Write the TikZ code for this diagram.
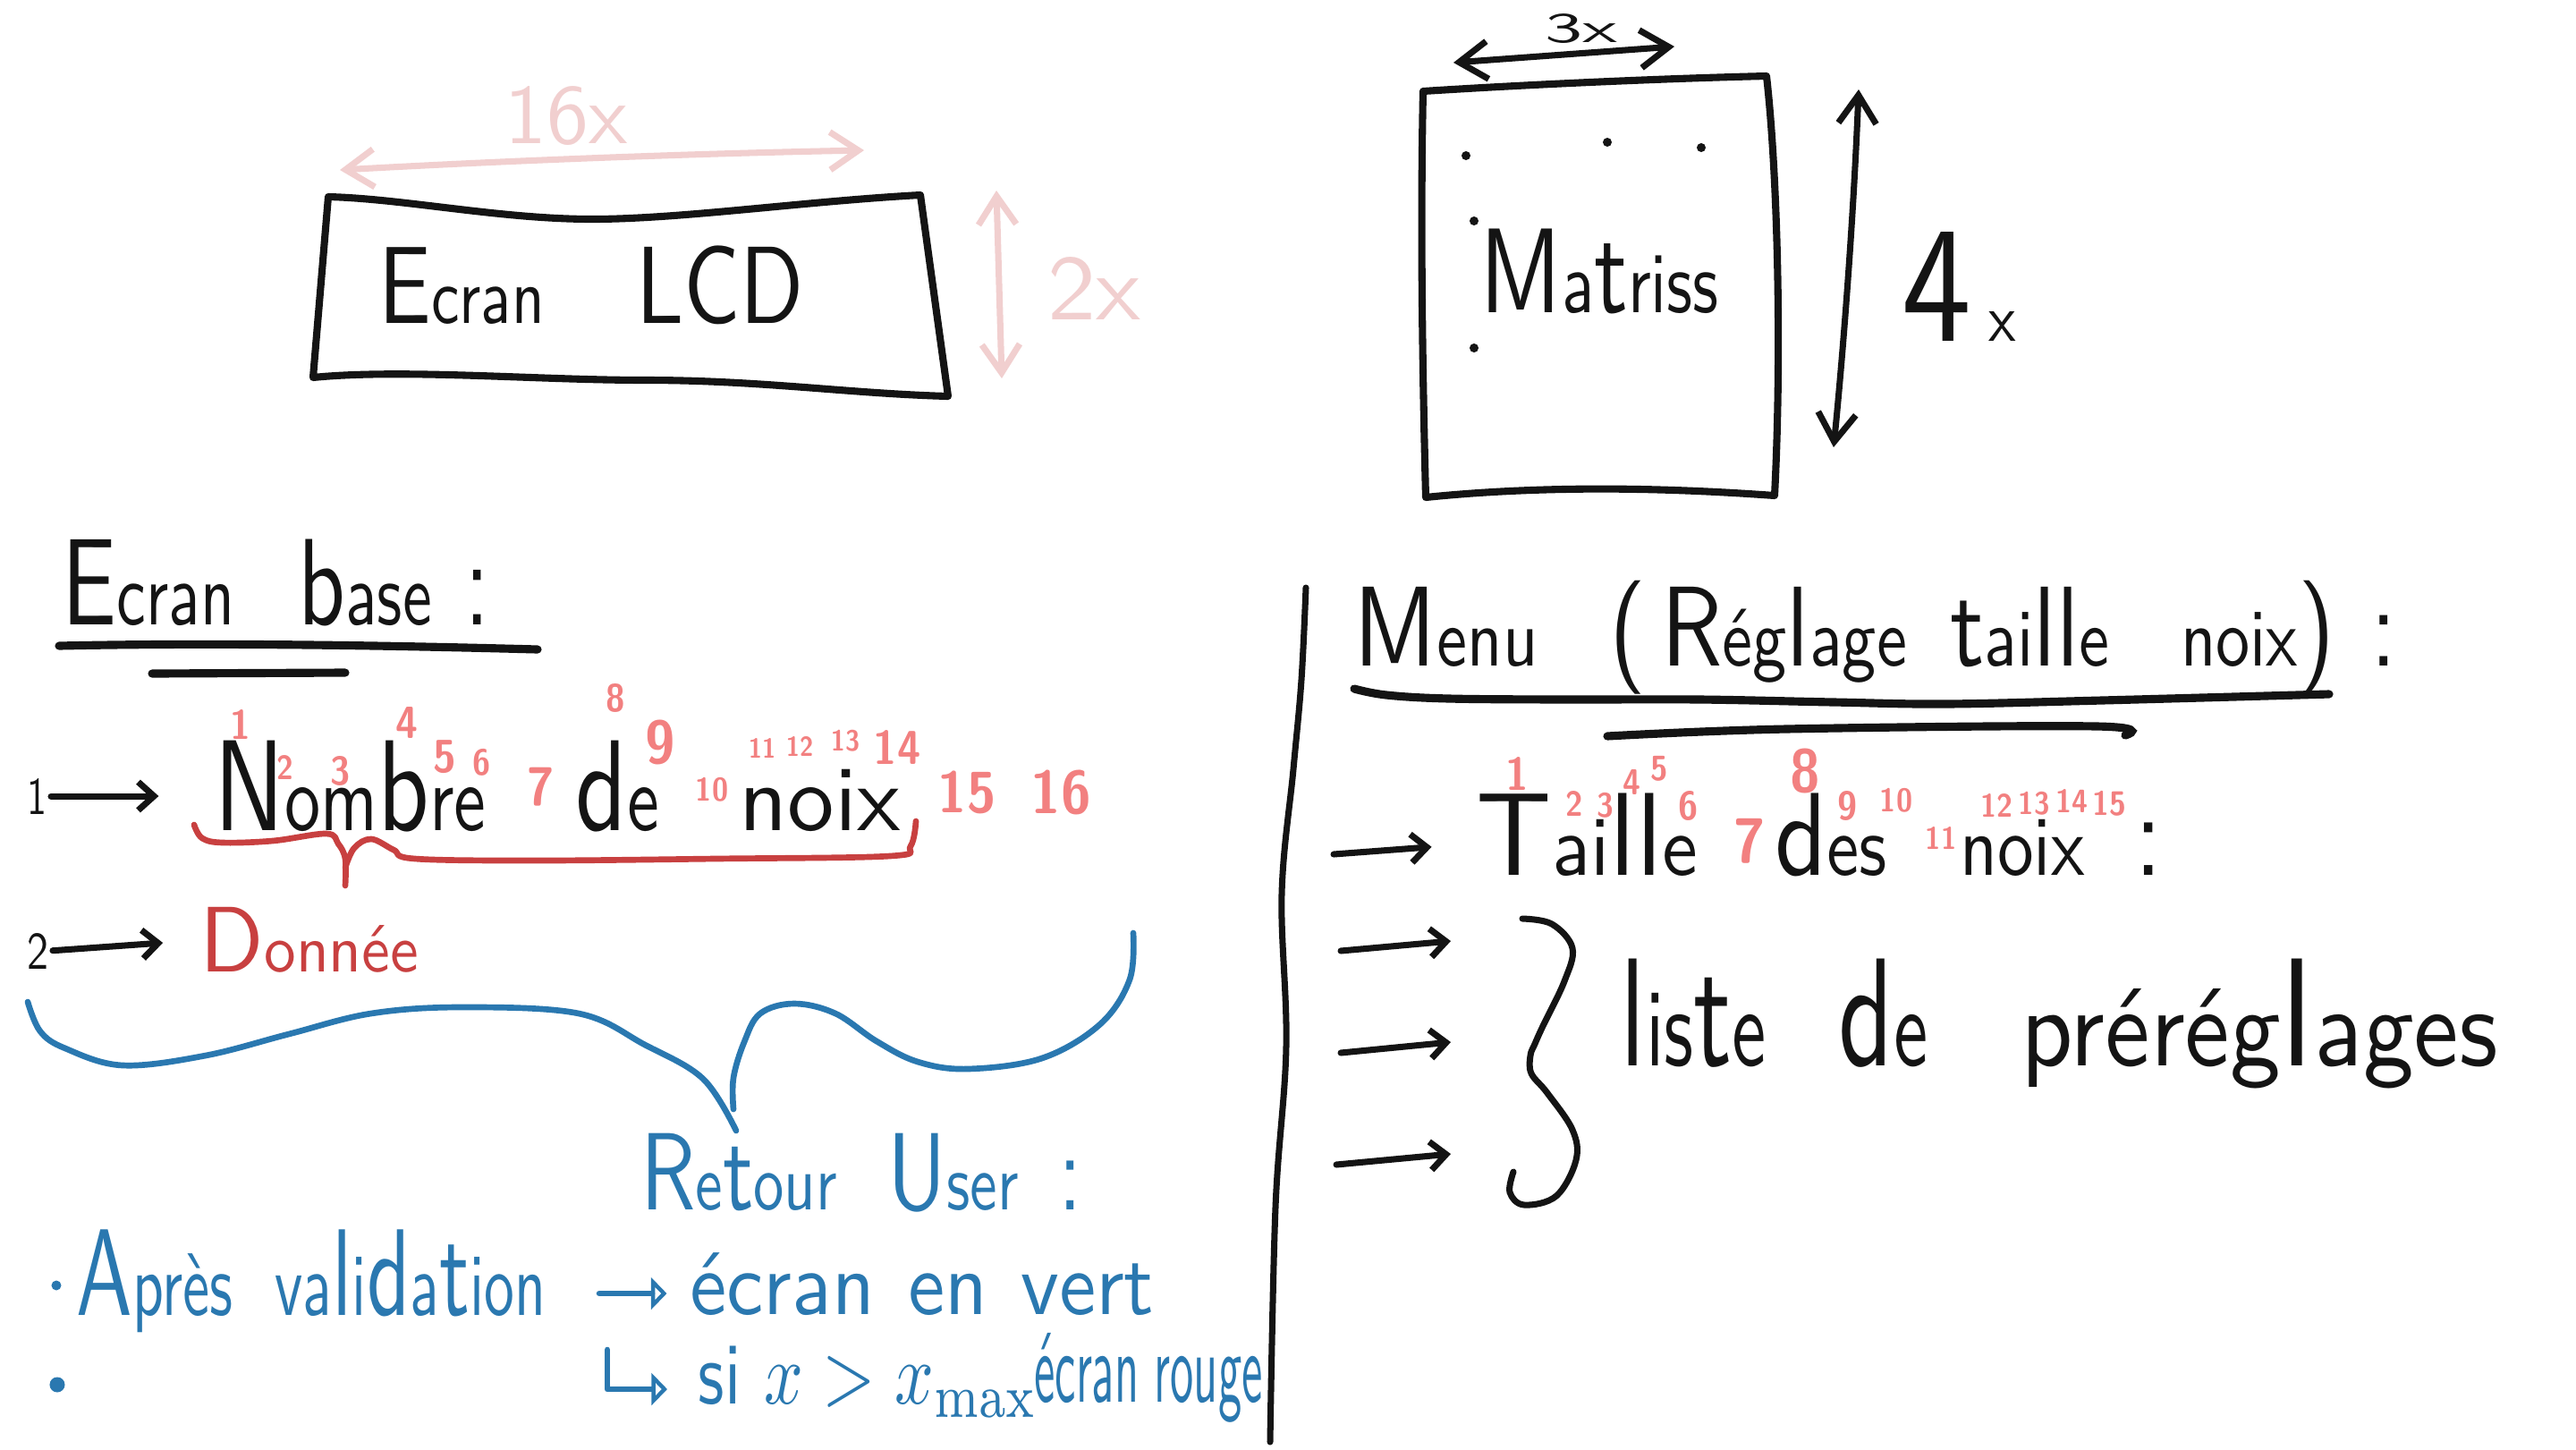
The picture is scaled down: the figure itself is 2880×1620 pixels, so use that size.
\documentclass[tikz,border=0pt]{standalone}
\usepackage{fontspec}
\renewcommand{\familydefault}{\sfdefault}
\usepackage{graphicx}
\usetikzlibrary{arrows.meta}
\newlength\pxu \setlength\pxu{0.01cm}
\newcommand\hw[3]{\resizebox*{#1\pxu}{#2\pxu}{#3}}
\newcommand\pn[2]{\resizebox*{!}{#1\pxu}{\scalebox{0.9}[1]{\bfseries #2}}}
\newcommand\sm[1]{\scalebox{0.72}{#1}}
\definecolor{ink}{HTML}{141414}
\definecolor{redink}{HTML}{C84040}
\definecolor{numpink}{HTML}{F28080}
\definecolor{lightpink}{HTML}{F1CFCF}
\definecolor{blueink}{HTML}{2A78B0}
\tikzset{
  txt/.style={inner sep=0pt, outer sep=0pt, text=ink},
  bluetxt/.style={inner sep=0pt, outer sep=0pt, text=blueink},
  redtxt/.style={inner sep=0pt, outer sep=0pt, text=redink},
  lptxt/.style={inner sep=0pt, outer sep=0pt, text=lightpink},
  pk/.style={inner sep=0pt, outer sep=0pt, text=numpink},
  bullet/.style={circle, fill=blueink, inner sep=0pt},
  box/.style={draw=ink, line width=2.3pt, line cap=round, line join=round},
  uline/.style={draw=ink, line width=2.6pt, line cap=round},
  inkline/.style={draw=ink, line width=2pt, line cap=round, line join=round},
  redline/.style={draw=redink, line width=1.9pt, line cap=round, line join=round},
  blueline/.style={draw=blueink, line width=1.9pt, line cap=round, line join=round},
  pinkline/.style={draw=lightpink, line width=2pt, line cap=round, line join=round},
  barb/.style={-{Straight Barb[length=5pt,width=9pt]}},
  dbarb/.style={{Straight Barb[length=9pt,width=12pt]}-{Straight Barb[length=9pt,width=12pt]}},
  tri/.style={-{Triangle[open,length=5pt,width=10pt]}},
}
\begin{document}
\begin{tikzpicture}[x=0.01cm,y=-0.01cm]
\fill[white] (0,0) rectangle (2880,1620);

% ---------------- Ecran LCD box ----------------
\draw[box] (367,220) .. controls (450,222) and (560,245) .. (662,245)
  .. controls (760,245) and (900,225) .. (1029,218) -- (1060,443)
  .. controls (950,440) and (850,425) .. (722,425)
  .. controls (600,425) and (450,412) .. (350,422) -- cycle;
\node[txt] (lcd) at (661,319) {\hw{475}{88}{E\sm{cran}\hspace{1.04em}LCD}};
% 16x
\coordinate (w16a) at (380,190);
\coordinate (w16b) at (966,168);
\draw[pinkline,dbarb] (w16a) .. controls (560,180) and (760,172) .. (w16b);
\node[lptxt] (l16) at (633,130) {\hw{137}{66}{16x}};
% 2x
\coordinate (h2a) at (1114,213);
\coordinate (h2b) at (1120,423);
\draw[pinkline,dbarb] (h2a) -- (h2b);
\node[lptxt] (l2) at (1223,322) {\hw{104}{70}{2x}};

% ---------------- Matrice box ----------------
\draw[box] (1591,102) .. controls (1700,95) and (1850,88) .. (1975,85)
  .. controls (1988,200) and (1992,400) .. (1984,554)
  .. controls (1900,548) and (1750,540) .. (1594,556)
  .. controls (1590,400) and (1588,250) .. cycle;
\node[txt] (mat) at (1788,303) {\hw{267}{95}{M\sm{a}t\sm{riss}}};
\fill[ink] (1639,174) circle (5);
\fill[ink] (1797,159) circle (5);
\fill[ink] (1902,165) circle (5);
\fill[ink] (1648,247) circle (5);
\fill[ink] (1648,389) circle (5);
% 3x
\coordinate (w3a) at (1625,70);
\coordinate (w3b) at (1872,52);
\draw[inkline,dbarb] (w3a) -- (w3b);
\node[txt] (l3) at (1768,32) {\hw{81}{33}{3x}};
% 4x
\coordinate (h4a) at (2078,100);
\coordinate (h4b) at (2050,500);
\draw[inkline,dbarb] (h4a) .. controls (2072,250) and (2060,400) .. (h4b);
\node[txt] (l4) at (2190,320) {\hw{127}{122}{4\kern0.12em{\fontsize{4}{4}\selectfont x}}};

% ---------------- Ecran base ----------------
\node[txt] (eb) at (309,651) {\hw{478}{97}{E\sm{cran}\hspace{0.7em}b\sm{ase}\hspace{0.36em}:}};
\draw[uline] (66,722) .. controls (250,718) and (450,722) .. (601,726);
\draw[uline] (170,753) -- (386,752);

\node[txt] (n1) at (41,890) {\hw{22}{40}{1}};
\node[txt] (nombre) at (623,879) {\hw{767}{102}{N\sm{om}b\sm{re}\hspace{0.9em}d\sm{e}\hspace{0.8em}\scalebox{0.94}[0.72]{noix}}};
\draw[inkline,barb,shorten <=0.05cm,shorten >=0.62cm] (n1.east) -- (n1.east -| nombre.west);

% pink numbers (Nombre de noix)
\node[pk] (nn1) at (269,810) {\pn{33}{1}};
\node[pk] (nn2) at (319,858) {\pn{27}{2}};
\node[pk] (nn3) at (381,862) {\pn{33}{3}};
\node[pk] (nn4) at (455,808) {\pn{35}{4}};
\node[pk] (nn5) at (497,846) {\pn{37}{5}};
\node[pk] (nn6) at (539,852) {\pn{30}{6}};
\node[pk] (nn7) at (605,880) {\pn{43}{7}};
\node[pk] (nn8) at (688,780) {\pn{32}{8}};
\node[pk] (nn9) at (738,830) {\pn{50}{9}};
\node[pk] (nn10) at (796,883) {\pn{27}{10}};
\node[pk] (nn11) at (852,836) {\pn{22}{11}};
\node[pk] (nn12) at (894,834) {\pn{22}{12}};
\node[pk] (nn13) at (945,828) {\pn{24}{13}};
\node[pk] (nn14) at (1003,835) {\pn{38}{14}};
\node[pk] (nn15) at (1081,886) {\pn{48}{15}};
\node[pk] (nn16) at (1186,886) {\pn{50}{16}};

% red brace
\draw[redline] plot[smooth,tension=0.6] coordinates {(217,922) (226,937) (249,942) (305,940) (365,932) (378,943) (386,960) (386,990)};
\draw[redline] plot[smooth,tension=0.6] coordinates {(386,970) (396,948) (415,938) (440,950) (464,960) (600,962) (800,960) (995,957) (1018,946) (1024,918)};

% Donnee
\node[txt] (n2) at (43,1063) {\hw{24}{40}{2}};
\node[redtxt] (donnee) at (346,1051) {\hw{244}{73}{D\sm{onnée}}};
\draw[inkline,barb,shorten <=0.04cm,shorten >=0.42cm] (n2.east) -- (donnee.west);

% blue brace
\draw[blueline] plot[smooth,tension=0.6] coordinates {(31,1120) (45,1153) (73,1172) (137,1191) (230,1180) (323,1156) (415,1133) (517,1126) (647,1133) (721,1168) (786,1206) (823,1264)};
\draw[blueline] plot[smooth,tension=0.6] coordinates {(820,1240) (820,1205) (832,1165) (850,1133) (888,1122) (934,1133) (980,1164) (1026,1187) (1082,1195) (1165,1183) (1230,1145) (1263,1095) (1267,1043)};

\node[bluetxt] (retour) at (963,1311) {\hw{494}{88}{R\sm{e}t\sm{our}\hspace{0.6em}U\sm{ser}\hspace{0.47em}:}};
\node[bullet, minimum size=0.11cm] (b1) at (63,1437) {};
\node[bluetxt] (apres) at (348,1432) {\hw{524}{115}{A\sm{près}\hspace{0.5em}\sm{va}l\sm{i}d\sm{a}t\sm{ion}}};
\node[bluetxt] (vert) at (1031,1436) {\hw{519}{70}{écran\hspace{0.4em}en\hspace{0.4em}vert}};
\draw[blueline,tri,shorten <=0.6cm,shorten >=0.26cm] ([yshift=-0.14cm]apres.east) -- ([yshift=-0.14cm]apres.east -| vert.west);

\node[bullet, minimum size=0.17cm] (b2) at (64,1548) {};
\node[bluetxt] (si) at (971,1545) {\hw{380}{80}{si $x>x_{\mathrm{max}}$}};
\node[bluetxt] (rouge) at (1284,1540) {\hw{255}{100}{écran rouge}};
\coordinate (ra) at (679,1509);
\coordinate (rb) at (746,1553);
\draw[blueline,tri] (ra) |- (rb);

% separator
\draw[inkline] plot[smooth,tension=0.6] coordinates {(1460,657) (1455,760) (1446,860) (1433,1000) (1438,1170) (1426,1350) (1420,1612)};

% ---------------- Menu ----------------
\node[txt] (menu) at (2097,713) {\hw{1166}{127}{M\sm{enu}\hspace{0.75em}(\hspace{0.16em}R\sm{ég}l\sm{age}\hspace{0.46em}t\sm{ai}ll\sm{e}\hspace{0.75em}\sm{noix})\hspace{0.38em}:}};
\draw[uline] plot[smooth,tension=0.6] coordinates {(1514,770) (1550,777) (1620,781) (1750,782) (1900,782) (2050,785) (2175,787) (2350,783) (2604,776)};
\draw[uline] plot[smooth,tension=0.6] coordinates {(1797,823) (1997,815) (2344,812) (2376,822)};

\node[txt] (taille) at (2034,933) {\hw{767}{93}{\scalebox{1.1}[1]{T\sm{ai}ll\sm{e}}\hspace{0.76em}d\sm{es}\hspace{0.72em}\sm{noix}\hspace{0.49em}:}};
\coordinate (ta) at (1491,955);
\draw[inkline,barb,shorten >=0.5cm] (ta) -- ([yshift=-0.1cm]taille.west);

% pink numbers (Taille des noix)
\node[pk] (tn1) at (1696,865) {\pn{37}{1}};
\node[pk] (tn2) at (1760,898) {\pn{28}{2}};
\node[pk] (tn3) at (1795,900) {\pn{28}{3}};
\node[pk] (tn4) at (1824,874) {\pn{28}{4}};
\node[pk] (tn5) at (1855,859) {\pn{28}{5}};
\node[pk] (tn6) at (1888,901) {\pn{33}{6}};
\node[pk] (tn7) at (1956,940) {\pn{50}{7}};
\node[pk] (tn8) at (2018,862) {\pn{50}{8}};
\node[pk] (tn9) at (2066,901) {\pn{33}{9}};
\node[pk] (tn10) at (2120,895) {\pn{27}{10}};
\node[pk] (tn11) at (2170,937) {\pn{25}{11}};
\node[pk] (tn12) at (2232,900) {\pn{26}{12}};
\node[pk] (tn13) at (2274,898) {\pn{26}{13}};
\node[pk] (tn14) at (2316,895) {\pn{26}{14}};
\node[pk] (tn15) at (2358,898) {\pn{28}{15}};

% preset arrows
\coordinate (pa1) at (1499,1063); \coordinate (pb1) at (1622,1052);
\coordinate (pa2) at (1499,1177); \coordinate (pb2) at (1622,1165);
\coordinate (pa3) at (1494,1302); \coordinate (pb3) at (1622,1290);
\draw[inkline,barb] (pa1) -- (pb1);
\draw[inkline,barb] (pa2) -- (pb2);
\draw[inkline,barb] (pa3) -- (pb3);

% brace
\draw[inkline] plot[smooth,tension=0.6] coordinates {(1702,1027) (1735,1033) (1758,1060) (1749,1097) (1725,1147) (1716,1167) (1711,1180) (1712,1200) (1730,1222) (1758,1263) (1762,1297) (1740,1337) (1704,1347) (1688,1333) (1692,1310)};

\node[txt] (liste) at (2302,1145) {\hw{981}{145}{l\sm{is}t\sm{e}\hspace{0.68em}d\sm{e}\hspace{0.87em}\scalebox{1.32}[1]{\sm{préré}\sm{g}l\sm{ages}}}};
\end{tikzpicture}
\end{document}
